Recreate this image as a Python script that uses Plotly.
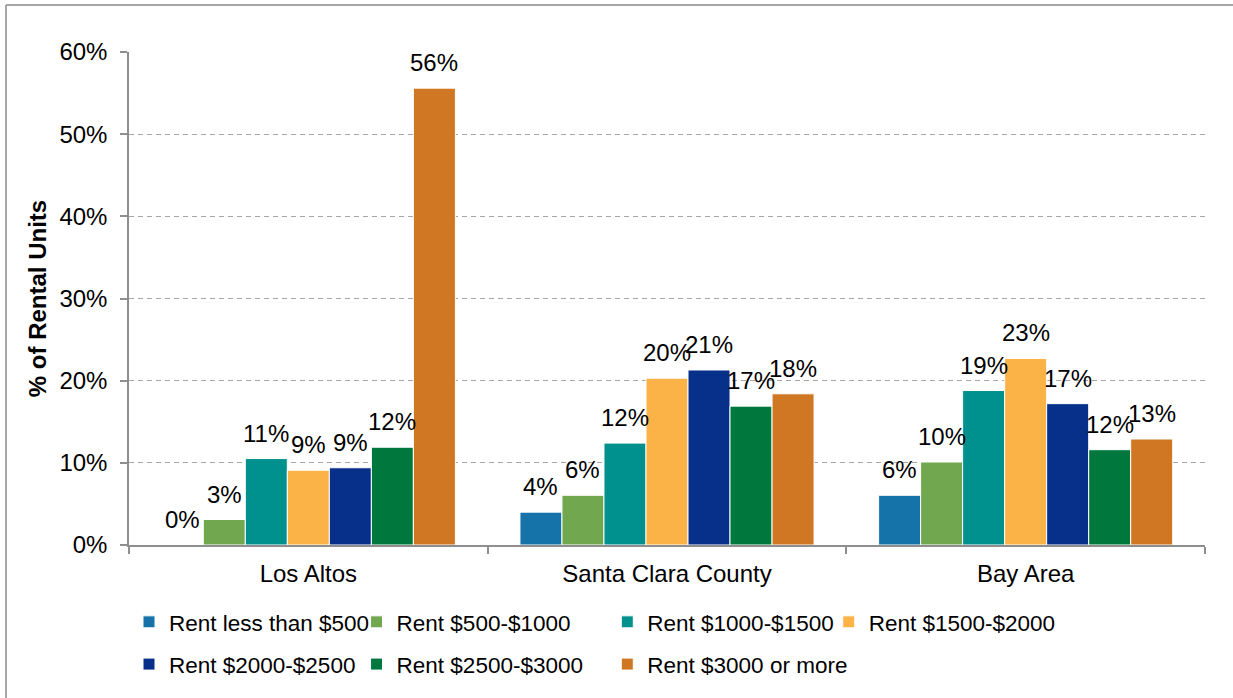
import plotly.graph_objects as go

# Share of rental units by monthly rent band
areas = ["Los Altos", "Santa Clara County", "Bay Area"]
rent_bands = [
    "Rent less than $500",
    "Rent $500-$1000",
    "Rent $1000-$1500",
    "Rent $1500-$2000",
    "Rent $2000-$2500",
    "Rent $2500-$3000",
    "Rent $3000 or more",
]
pct_less_500 = [0.0, 4.0, 6.05]
pct_500_1000 = [3.1, 6.05, 10.1]
pct_1000_1500 = [10.52, 12.4, 18.8]
pct_1500_2000 = [9.1, 20.3, 22.7]
pct_2000_2500 = [9.4, 21.3, 17.2]
pct_2500_3000 = [11.9, 16.9, 11.6]
pct_3000_plus = [55.6, 18.4, 12.9]

series = [pct_less_500, pct_500_1000, pct_1000_1500, pct_1500_2000,
          pct_2000_2500, pct_2500_3000, pct_3000_plus]
colors = ["#1573A9", "#71A74F", "#00918F", "#FBB247",
          "#06308A", "#00773D", "#CF7722"]
# legend column each band is listed in
legend_ids = ["legend", "legend2", "legend3", "legend4",
              "legend", "legend2", "legend3"]

FONT = "Liberation Sans, Arial, sans-serif"
BAR_GAP = 0.18

fig = go.Figure()
for name, vals, col, lg in zip(rent_bands, series, colors, legend_ids):
    fig.add_trace(go.Bar(
        x=areas, y=vals, name=name,
        marker=dict(color=col, line=dict(color="white", width=1)),
        legend=lg, legendgroup=name,
        hoverinfo="x+y+name",
    ))

# value labels above each bar, placed from the same values
n = len(series)
w = (1 - BAR_GAP) / n
annotations = []
for i, vals in enumerate(series):
    off = -(1 - BAR_GAP) / 2 + (i + 0.5) * w
    for j, v in enumerate(vals):
        annotations.append(dict(
            x=j + off, y=v, xref="x", yref="y",
            text=f"{v:.0f}%", showarrow=False,
            yanchor="bottom", xanchor="center", yshift=10,
            font=dict(size=24, color="#000000", family=FONT),
        ))

legend_common = dict(
    orientation="v", xanchor="left", yanchor="top",
    font=dict(size=22.5, color="#000000", family=FONT),
    bgcolor="rgba(0,0,0,0)", traceorder="grouped", tracegroupgap=10,
    itemclick=False, itemdoubleclick=False,
)
legend_x = [0.0, 0.2115, 0.4445, 0.6503]
LEG_Y = -0.113

fig.update_layout(
    width=1233, height=698,
    margin=dict(l=129, r=28, t=52, b=153),
    paper_bgcolor="white", plot_bgcolor="white",
    barmode="group", bargap=BAR_GAP, bargroupgap=0,
    font=dict(family=FONT, size=24, color="#000000"),
    annotations=annotations,
    legend=dict(x=legend_x[0], y=LEG_Y, **legend_common),
    legend2=dict(x=legend_x[1], y=LEG_Y, **legend_common),
    legend3=dict(x=legend_x[2], y=LEG_Y, **legend_common),
    legend4=dict(x=legend_x[3], y=LEG_Y, **legend_common),
    xaxis=dict(
        type="category", tickson="boundaries", ticks="outside", ticklen=7,
        tickcolor="#8E8E8E", tickwidth=2,
        showline=True, linecolor="#8E8E8E", linewidth=2,
        showgrid=False, ticklabelstandoff=6,
        tickfont=dict(size=24, family=FONT, color="#000000"),
    ),
    yaxis=dict(
        range=[0, 60], dtick=10, ticksuffix="%",
        ticks="outside", ticklen=7, tickcolor="#8E8E8E", tickwidth=1.5,
        showline=True, linecolor="#8E8E8E", linewidth=1.5,
        showgrid=True, gridcolor="#A6A6A6", gridwidth=1, griddash="5px,4px",
        zeroline=False, ticklabelstandoff=8,
        tickfont=dict(size=24, family=FONT, color="#000000"),
        title=dict(text="<b>% of Rental Units</b>", standoff=6,
                   font=dict(size=24, family=FONT, color="#000000")),
    ),
    shapes=[
        # chart frame: left and top edges
        dict(type="line", xref="paper", yref="paper",
             x0=(6 - 129) / 1076, x1=(6 - 129) / 1076,
             y0=(545 - 710) / 493, y1=(545 - 5) / 493,
             line=dict(color="#8A8A8A", width=1.5), layer="below"),
        dict(type="line", xref="paper", yref="paper",
             x0=(6 - 129) / 1076, x1=(1245 - 129) / 1076,
             y0=(545 - 5) / 493, y1=(545 - 5) / 493,
             line=dict(color="#8A8A8A", width=1.5), layer="below"),
    ],
)

fig.write_html("out.html")
